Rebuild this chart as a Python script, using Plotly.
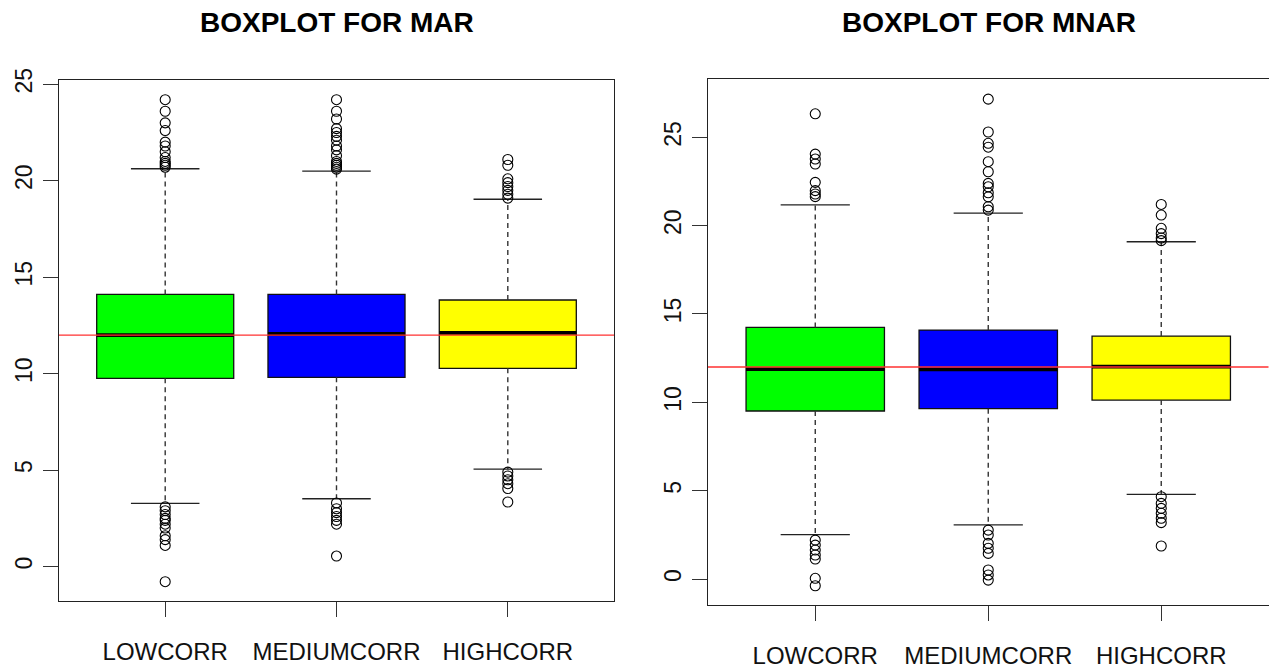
import plotly.graph_objects as go

# Group labels and colours shared by both panels
categories = ["LOWCORR", "MEDIUMCORR", "HIGHCORR"]
box_colors = ["#00FF00", "#0000FF", "#FFFF00"]
reference_level = 12

# ---- MAR summary statistics ----
mar_q1 = [9.76, 9.81, 10.28]
mar_median = [12.0, 12.06, 12.12]
mar_q3 = [14.11, 14.11, 13.82]
mar_lower_whisker = [3.28, 3.52, 5.05]
mar_upper_whisker = [20.62, 20.5, 19.04]
mar_outliers_low = [
    [3.1, 2.9, 2.7, 2.5, 2.4, 2.2, 2.0, 1.6, 1.4, 1.1, -0.78],
    [3.3, 3.0, 2.8, 2.6, 2.4, 2.2, 0.55],
    [4.9, 4.7, 4.5, 4.3, 4.05, 3.35],
]
mar_outliers_high = [
    [20.7, 20.8, 20.9, 21.0, 21.2, 21.5, 21.8, 22.0, 22.6, 23.0, 23.6, 24.2],
    [20.6, 20.7, 20.8, 20.9, 21.0, 21.3, 21.6, 21.8, 22.1, 22.3, 22.5, 22.7, 23.2, 23.6, 24.2],
    [19.1, 19.3, 19.5, 19.7, 19.9, 20.1, 20.8, 21.1],
]

# ---- MNAR summary statistics ----
mnar_q1 = [9.51, 9.64, 10.13]
mnar_median = [11.88, 11.87, 12.02]
mnar_q3 = [14.24, 14.09, 13.75]
mnar_lower_whisker = [2.51, 3.07, 4.79]
mnar_upper_whisker = [21.18, 20.71, 19.09]
mnar_outliers_low = [
    [2.2, 1.92, 1.64, 1.36, 1.13, 0.04, -0.38],
    [2.77, 2.49, 2.02, 1.74, 1.45, 0.51, 0.23, -0.06],
    [4.66, 4.28, 4.0, 3.72, 3.44, 3.19, 1.87],
]
mnar_outliers_high = [
    [21.64, 21.79, 21.98, 22.45, 23.49, 23.77, 24.05, 26.33],
    [20.88, 21.07, 21.63, 21.86, 22.2, 22.39, 23.05, 23.62, 24.44, 24.66, 25.3, 27.16],
    [19.15, 19.3, 19.55, 19.85, 20.6, 21.2],
]

y_ticks = [0, 5, 10, 15, 20, 25]

FONT = "Liberation Sans, Arial, Helvetica, sans-serif"
BOX_W = 0.8
CAP_W = 0.4

fig = go.Figure()


def segments(xs_left, xs_right, ys_a, ys_b):
    xs, ys = [], []
    for xl, xr, ya, yb in zip(xs_left, xs_right, ys_a, ys_b):
        xs += [xl, xr, None]
        ys += [ya, yb, None]
    return xs, ys


def add_panel(q1, med, q3, lw, uw, out_lo, out_hi, xa, ya):
    pos = list(range(1, len(categories) + 1))
    # whiskers (dashed) from box edges to the whisker ends
    wx, wy = segments(pos + pos, pos + pos, q3 + q1, uw + lw)
    fig.add_trace(go.Scatter(x=wx, y=wy, mode="lines", xaxis=xa, yaxis=ya,
                             line=dict(color="#333333", width=1.4, dash="5px,4px"),
                             hoverinfo="skip", showlegend=False))
    # whisker caps
    cx, cy = segments([p - CAP_W / 2 for p in pos] * 2, [p + CAP_W / 2 for p in pos] * 2,
                      uw + lw, uw + lw)
    fig.add_trace(go.Scatter(x=cx, y=cy, mode="lines", xaxis=xa, yaxis=ya,
                             line=dict(color="#222222", width=1.3),
                             hoverinfo="skip", showlegend=False))
    # boxes
    fig.add_trace(go.Bar(x=pos, y=[b - a for a, b in zip(q1, q3)], base=q1,
                         width=BOX_W, xaxis=xa, yaxis=ya,
                         marker=dict(color=box_colors, line=dict(color="#111111", width=1.3)),
                         hoverinfo="skip", showlegend=False))
    # medians
    mx, my = segments([p - BOX_W / 2 for p in pos], [p + BOX_W / 2 for p in pos], med, med)
    fig.add_trace(go.Scatter(x=mx, y=my, mode="lines", xaxis=xa, yaxis=ya,
                             line=dict(color="black", width=3.8),
                             hoverinfo="skip", showlegend=False))
    # outliers
    ox, oy = [], []
    for p, lo, hi in zip(pos, out_lo, out_hi):
        ox += [p] * (len(lo) + len(hi))
        oy += lo + hi
    fig.add_trace(go.Scatter(x=ox, y=oy, mode="markers", xaxis=xa, yaxis=ya,
                             marker=dict(symbol="circle-open", size=10,
                                         color="black", line=dict(width=1.1)),
                             hoverinfo="skip", showlegend=False))


add_panel(mar_q1, mar_median, mar_q3, mar_lower_whisker, mar_upper_whisker,
          mar_outliers_low, mar_outliers_high, "x", "y")
add_panel(mnar_q1, mnar_median, mnar_q3, mnar_lower_whisker, mnar_upper_whisker,
          mnar_outliers_low, mnar_outliers_high, "x2", "y2")

W, H = 1269, 668

# horizontal reference line at the overall level
for xr, yr in (("x", "y"), ("x2", "y2")):
    fig.add_shape(type="line", xref=f"{xr} domain", yref=yr, x0=0, x1=1,
                  y0=reference_level, y1=reference_level,
                  line=dict(color="#ff3030", width=1.3), layer="above")

axis_common = dict(showline=True, mirror=True, linecolor="#222222", linewidth=1.2,
                   showgrid=False, zeroline=False, ticks="outside", ticklen=15,
                   tickcolor="#333333", tickwidth=1.2, automargin=False,
                   tickfont=dict(family=FONT, size=23, color="#111111"))

x_common = dict(axis_common, range=[0.38, 3.62], tickmode="array",
                tickvals=[1, 2, 3], ticktext=categories, ticklabelstandoff=14,
                tickfont=dict(family=FONT, size=24, color="#111111"))
y_common = dict(axis_common, tickmode="array", tickvals=y_ticks,
                ticktext=[str(t) for t in y_ticks], tickangle=-90,
                ticklabelstandoff=2)

fig.update_layout(
    width=W, height=H,
    margin=dict(l=0, r=0, t=0, b=0, pad=0, autoexpand=False),
    paper_bgcolor="white", plot_bgcolor="white", barmode="overlay",
    xaxis=dict(x_common, domain=[59 / W, 614 / W], anchor="y"),
    yaxis=dict(y_common, domain=[(H - 601) / H, (H - 80) / H], range=[-1.78, 25.22], anchor="x"),
    xaxis2=dict(x_common, domain=[708 / W, 1268.5 / W], anchor="y2"),
    yaxis2=dict(y_common, domain=[(H - 605) / H, (H - 79) / H], range=[-1.47, 28.3], anchor="x2"),
    annotations=[
        dict(text="<b>BOXPLOT FOR MAR</b>", x=(59 + 614) / 2 / W, y=1 - 23 / H,
             xref="paper", yref="paper", xanchor="center", yanchor="middle",
             showarrow=False, font=dict(family=FONT, size=28, color="black")),
        dict(text="<b>BOXPLOT FOR MNAR</b>", x=(708 + 1269) / 2 / W, y=1 - 23 / H,
             xref="paper", yref="paper", xanchor="center", yanchor="middle",
             showarrow=False, font=dict(family=FONT, size=28, color="black")),
    ],
)

fig.write_html("out.html")
